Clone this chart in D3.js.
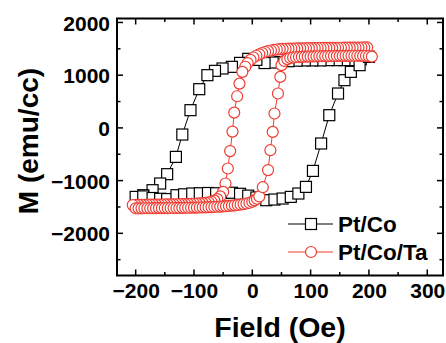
<!DOCTYPE html>
<html><head><meta charset="utf-8">
<script src="https://cdn.jsdelivr.net/npm/d3@7"></script>
<style>body{margin:0;background:#fff}svg{display:block}text{font-family:"Liberation Sans",Arial,sans-serif;font-weight:bold;fill:#000}</style>
</head><body><svg id="c" width="446" height="343"></svg>
<script>
// Pt/Co (black squares), loop order: descending branch then ascending branch
const ptCoField = [200,186,172,158,145,131,117,103,90,76,62,48,35,21,7,-7,-21,-35,-51,-64,-77,-91,-106,-120,-131,-146,-158,-171,-187,-200,
  -187,-171,-158,-146,-130,-117,-103,-90,-76,-62,-48,-35,-21,-7,7,24,38,52,66,79,92,104,118,132,147,158,169,184,200];
const ptCoM = [1347,1300,1285,1285,1285,1285,1280,1280,1280,1275,1265,1250,1240,1230,1290,1310,1233,1158,1127,1082,1000,734,336,-126,-550,-878,-1055,-1182,-1277,-1309,
  -1300,-1330,-1345,-1350,-1277,-1260,-1245,-1240,-1235,-1240,-1235,-1230,-1250,-1285,-1320,-1372,-1359,-1340,-1309,-1245,-1119,-816,-296,241,652,905,1063,1190,1347];
// Pt/Co/Ta (red circles), descending branch then ascending branch
const ptCoTaField = [
  197,192,187,182,177,172,167,162,157,152,147,142,137,132,127,122,117,112,107,102,97,92,87,82,77,72,67,62,57,52,
  47,42,37,32,27,22,17,12,7,2,-3,-8,-12,-17,-22,-26,-31,-34,-38,-42,-46,-50,-55,-60,-65,-70,-75,-80,
  -85,-90,-95,-100,-105,-110,-115,-120,-125,-130,-135,-140,-145,-150,-155,-160,-165,-170,-175,-180,-185,-190,-195,-200,-205,
  -200,-195,-190,-185,-180,-175,-170,-165,-160,-155,-150,-145,-140,-135,-130,-125,-120,-115,-110,-105,-100,-95,-90,-85,-80,-75,-70,-65,-60,-55,-50,-45,-40,-35,-30,-25,-20,-15,-10,-5,
  0,4,8,12,18,27,31,35,38,44,48,50,55,60,65,70,
  75,80,85,90,95,100,105,110,115,120,125,130,135,140,145,150,155,160,165,170,175,180,185,190,195,200,205];
const ptCoTaM = [
  1526,1526,1525,1524,1524,1523,1522,1522,1521,1520,1520,1519,1518,1518,1517,1516,1515,1515,1514,1513,1512,1511,1510,1509,1508,1506,1505,1503,1501,1499,
  1494,1487,1478,1468,1455,1440,1420,1396,1368,1335,1290,1230,1160,1063,840,600,290,-70,-440,-770,-1055,-1214,-1300,-1350,-1380,-1400,-1412,-1422,
  -1428,-1432,-1436,-1439,-1441,-1443,-1445,-1446,-1447,-1448,-1449,-1450,-1451,-1452,-1453,-1454,-1455,-1456,-1457,-1458,-1459,-1460,-1461,-1462,-1464,
  -1525,-1525,-1525,-1524,-1524,-1524,-1523,-1523,-1522,-1522,-1521,-1521,-1520,-1520,-1519,-1518,-1517,-1516,-1515,-1514,-1513,-1512,-1510,-1508,-1506,-1504,-1502,-1499,-1496,-1493,-1489,-1485,-1480,-1475,-1469,-1462,-1454,-1445,-1434,-1421,
  -1400,-1375,-1345,-1300,-1125,-800,-423,-76,273,652,968,1190,1270,1305,1325,1335,
  1340,1344,1347,1350,1352,1354,1356,1358,1359,1360,1361,1362,1363,1364,1365,1366,1366,1367,1367,1368,1368,1368,1367,1366,1364,1360,1352];
const xTicks = [-200,-100,0,100,200,300];
const yTicks = [-2000,-1000,0,1000,2000];
const seriesNames = ["Pt/Co","Pt/Co/Ta"];
const xTitle = "Field (Oe)", yTitle = "M (emu/cc)";

const svg = d3.select("#c");
const L=117,R=443,T=18.5,B=275.5;
const x = d3.scaleLinear().domain([-232,327]).range([L,R]);
const y = d3.scaleLinear().domain([-2800,2075]).range([B,T]);

// ticks (inward, all sides)
const xMinor = [-200,-150,-100,-50,0,50,100,150,200,250,300];
const yMinor = [-2500,-2000,-1500,-1000,-500,0,500,1000,1500,2000];
const tg = svg.append("g").attr("stroke","#000").attr("stroke-width",1.5);
xMinor.forEach(v=>{const len = v%100===0?6:3.5;
  tg.append("line").attr("x1",x(v)).attr("x2",x(v)).attr("y1",B).attr("y2",B-len);
  tg.append("line").attr("x1",x(v)).attr("x2",x(v)).attr("y1",T).attr("y2",T+len);});
yMinor.forEach(v=>{const len = v%1000===0?6:3.5;
  tg.append("line").attr("y1",y(v)).attr("y2",y(v)).attr("x1",L).attr("x2",L+len);
  tg.append("line").attr("y1",y(v)).attr("y2",y(v)).attr("x1",R).attr("x2",R-len);});

// tick labels via axes
const xa = svg.append("g").attr("transform",`translate(0,${B})`)
  .call(d3.axisBottom(x).tickValues(xTicks).tickSize(0).tickPadding(0).tickFormat(d3.format("d")));
xa.select(".domain").remove();
xa.selectAll("text").attr("font-size",21).attr("dy",null).attr("y",22).attr("font-family","Liberation Sans, Arial, sans-serif").attr("font-weight","bold").attr("fill","#000");
const ya = svg.append("g").attr("transform",`translate(${L},0)`)
  .call(d3.axisLeft(y).tickValues(yTicks).tickSize(0).tickPadding(0).tickFormat(d3.format("d")));
ya.select(".domain").remove();
ya.selectAll("text").attr("font-size",21).attr("x",-7).attr("dy","0.36em").attr("font-family","Liberation Sans, Arial, sans-serif").attr("font-weight","bold").attr("fill","#000");

// frame
svg.append("rect").attr("x",L).attr("y",T).attr("width",R-L).attr("height",B-T)
  .attr("fill","none").attr("stroke","#000").attr("stroke-width",2);

// data
const line = d3.line().x(d=>x(d[0])).y(d=>y(d[1]));
const s1 = ptCoField.map((h,i)=>[h,ptCoM[i]]);
const s2 = ptCoTaField.map((h,i)=>[h,ptCoTaM[i]]);
const sq = 11;
svg.append("path").attr("d",line(s1)).attr("fill","none").attr("stroke","#000").attr("stroke-width",1);
svg.append("g").selectAll("rect").data(s1).join("rect")
  .attr("x",d=>x(d[0])-sq/2).attr("y",d=>y(d[1])-sq/2).attr("width",sq).attr("height",sq)
  .attr("fill","#fff").attr("stroke","#000").attr("stroke-width",1.2);
const red = "#f03c32";
svg.append("path").attr("d",line(s2)).attr("fill","none").attr("stroke",red).attr("stroke-width",1);
svg.append("g").selectAll("circle").data(s2).join("circle")
  .attr("cx",d=>x(d[0])).attr("cy",d=>y(d[1])).attr("r",5.5)
  .attr("fill","#fff").attr("stroke",red).attr("stroke-width",1.2);

// legend
const lg = svg.append("g");
[[224,"#000","sq"],[252,red,"ci"]].forEach((e,i)=>{
  lg.append("line").attr("x1",288).attr("x2",333).attr("y1",e[0]).attr("y2",e[0]).attr("stroke",e[1]).attr("stroke-width",1);
  if(e[2]==="sq") lg.append("rect").attr("x",311-sq/2).attr("y",e[0]-sq/2).attr("width",sq).attr("height",sq).attr("fill","#fff").attr("stroke",e[1]).attr("stroke-width",1.2);
  else lg.append("circle").attr("cx",311).attr("cy",e[0]).attr("r",5.5).attr("fill","#fff").attr("stroke",e[1]).attr("stroke-width",1.2);
  lg.append("text").attr("x",338).attr("y",e[0]+7.5).attr("font-size",22.5).text(seriesNames[i]);
});

// axis titles
svg.append("text").attr("x",280).attr("y",337).attr("text-anchor","middle").attr("font-size",28.5).text(xTitle);
svg.append("text").attr("transform","translate(38,141) rotate(-90)").attr("text-anchor","middle").attr("font-size",28).text(yTitle);
</script></body></html>
